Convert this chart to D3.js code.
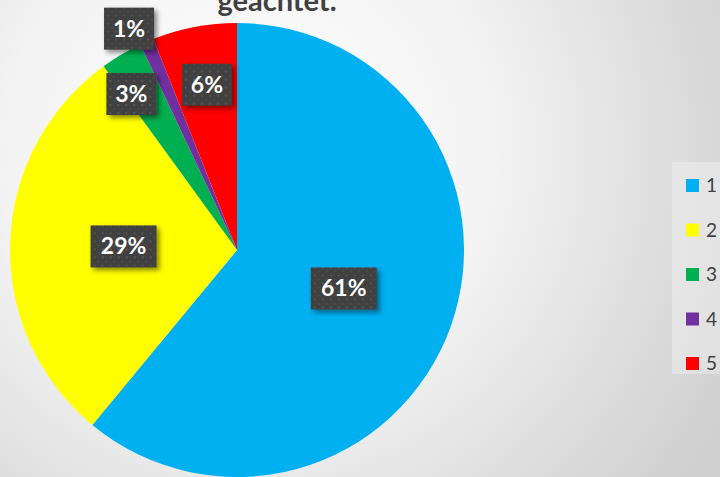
<!DOCTYPE html>
<html><head><meta charset="utf-8">
<script src="https://cdn.jsdelivr.net/npm/d3@7"></script>
<style>html,body{margin:0;padding:0;overflow:hidden;}svg{display:block;}</style>
</head><body>
<svg id="c" width="720" height="477"></svg>
<script>
const categories = ["1","2","3","4","5"];
const values = [61, 29, 3, 1, 6];
const labels = ["61%","29%","3%","1%","6%"];
const colors = ["#00b0f0","#ffff00","#00b050","#7030a0","#ff0000"];
const titleText = "geachtet.";
// label placement (layout): distance as fraction of radius, angle shift in degrees
const labelRadius = [0.5, 0.5, 0.83, 1.085, 0.74];
const labelShift = [0, 0, -3.5, -2.6, 0.5];

const W = 720, H = 477;
const svg = d3.select("#c");
const defs = svg.append("defs");

const bg = defs.append("radialGradient").attr("id","bg")
  .attr("gradientUnits","userSpaceOnUse").attr("cx",250).attr("cy",150).attr("r",540);
[[0,"#ffffff"],[0.45,"#f3f3f3"],[0.8,"#dcdcdc"],[1,"#d0d0d0"]].forEach(s=>
  bg.append("stop").attr("offset",s[0]).attr("stop-color",s[1]));
svg.append("rect").attr("width",W).attr("height",H).attr("fill","url(#bg)");

const pat = defs.append("pattern").attr("id","dots").attr("patternUnits","userSpaceOnUse")
  .attr("width",8).attr("height",8);
pat.append("rect").attr("width",8).attr("height",8).attr("fill","#3f3f3f");
pat.append("rect").attr("x",2).attr("y",2).attr("width",2).attr("height",2).attr("fill","#555555");
pat.append("rect").attr("x",6).attr("y",6).attr("width",2).attr("height",2).attr("fill","#4a4a4a");

const f = defs.append("filter").attr("id","sh").attr("x","-30%").attr("y","-30%").attr("width","160%").attr("height","160%");
f.append("feDropShadow").attr("dx",3).attr("dy",3).attr("stdDeviation",2.5)
  .attr("flood-color","#000").attr("flood-opacity",0.45);

const cx = 237, cy = 250, R = 227;
const pie = d3.pie().sort(null).value(d=>d);
const arcs = pie(values);
const arc = d3.arc().innerRadius(0).outerRadius(R);

const g = svg.append("g").attr("transform",`translate(${cx},${cy})`);
g.selectAll("path.slice").data(arcs).join("path").attr("class","slice")
  .attr("d",arc).attr("fill",(d,i)=>colors[i]);

// labels
const lbl = g.selectAll("g.lbl").data(arcs).join("g").attr("class","lbl")
  .attr("transform",(d,i)=>{
    const a = (d.startAngle + d.endAngle)/2 + labelShift[i]*Math.PI/180;
    const r = R*labelRadius[i];
    return `translate(${Math.sin(a)*r},${-Math.cos(a)*r})`;
  });
lbl.append("rect")
  .attr("x",(d,i)=> labels[i].length>2 ? -33 : -25)
  .attr("width",(d,i)=> labels[i].length>2 ? 66 : 50)
  .attr("y",-21).attr("height",42)
  .attr("fill","url(#dots)").attr("filter","url(#sh)");
lbl.append("text").attr("text-anchor","middle").attr("y",8)
  .attr("font-family","Lato, 'Open Sans', sans-serif").attr("font-weight","bold")
  .attr("font-size",23).attr("fill","#ffffff")
  .text((d,i)=>labels[i]);

// title
svg.append("text").attr("x",277).attr("y",11).attr("text-anchor","middle")
  .attr("font-family","Lato, 'Open Sans', sans-serif").attr("font-weight","bold")
  .attr("font-size",29).attr("fill","#404040").text(titleText);

// legend
svg.append("rect").attr("x",672).attr("y",162).attr("width",60).attr("height",212)
  .attr("fill","#ffffff").attr("opacity",0.3);
const ly = d3.scalePoint().domain(categories).range([185.5, 363.5]);
const leg = svg.selectAll("g.leg").data(categories).join("g").attr("class","leg")
  .attr("transform",d=>`translate(686,${ly(d)})`);
leg.append("rect").attr("x",0).attr("y",-6.5).attr("width",13).attr("height",13)
  .attr("fill",(d,i)=>colors[i]);
leg.append("text").attr("x",20).attr("y",6.5)
  .attr("font-family","Lato, 'Open Sans', sans-serif").attr("font-size",19)
  .attr("fill","#404040").text(d=>d);
</script>
</body></html>
